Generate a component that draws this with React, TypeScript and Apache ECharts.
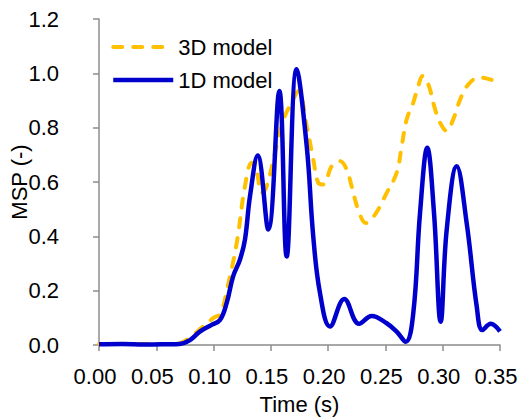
import React, { useEffect, useRef } from "react";
import * as echarts from "echarts";

const xTicks = [0, 0.05, 0.1, 0.15, 0.2, 0.25, 0.3, 0.35];
const yTicks = [0, 0.2, 0.4, 0.6, 0.8, 1.0, 1.2];

const seriesNames = ["3D model", "1D model"];

const time3D = [
  0, 0.03, 0.06, 0.07, 0.08, 0.09, 0.1, 0.106, 0.112, 0.1202, 0.1274, 0.1333,
  0.1375, 0.142, 0.146, 0.1565, 0.1623, 0.1682, 0.174, 0.1813, 0.187, 0.1914,
  0.1958, 0.2031, 0.2103, 0.2162, 0.2205, 0.2263, 0.233, 0.2409, 0.2511,
  0.2598, 0.2642, 0.2686, 0.2743, 0.2787, 0.2825, 0.2874, 0.2933, 0.2976,
  0.3035, 0.3092, 0.3165, 0.3238, 0.3325, 0.3427,
];
const msp3D = [
  0.004, 0.004, 0.004, 0.006, 0.03, 0.065, 0.1, 0.115, 0.21, 0.375, 0.584,
  0.671, 0.64, 0.56, 0.58, 0.757, 0.843, 0.892, 0.935, 0.806, 0.683, 0.597,
  0.591, 0.658, 0.677, 0.646, 0.584, 0.498, 0.449, 0.48, 0.56, 0.634, 0.732,
  0.831, 0.892, 0.954, 0.99, 0.96, 0.868, 0.819, 0.788, 0.831, 0.917, 0.966,
  0.985, 0.976,
];

const time1D = [
  0, 0.02, 0.04, 0.06, 0.07, 0.0794, 0.088, 0.0983, 0.1056, 0.1114, 0.117,
  0.123, 0.1274, 0.1318, 0.1385, 0.1478, 0.1574, 0.1638, 0.1725, 0.1813,
  0.187, 0.1929, 0.2016, 0.2141, 0.227, 0.238, 0.2511, 0.2598, 0.2677,
  0.2743, 0.2802, 0.2865, 0.2924, 0.2982, 0.3035, 0.3122, 0.3209, 0.3297,
  0.3346, 0.3419, 0.35,
];
const msp1D = [
  0.003, 0.004, 0.002, 0.003, 0.004, 0.018, 0.049, 0.074, 0.092, 0.154, 0.252,
  0.314, 0.388, 0.548, 0.698, 0.425, 0.935, 0.326, 1.015, 0.732, 0.4, 0.191,
  0.068, 0.169, 0.078, 0.107, 0.08, 0.049, 0.012, 0.117, 0.486, 0.726, 0.486,
  0.086, 0.425, 0.658, 0.449, 0.141, 0.055, 0.078, 0.05,
];

const FONT = "'Liberation Sans', Arial, Helvetica, sans-serif";
const ORANGE = "#FFC000";
const BLUE = "#0000CC";
const DASH = [9, 11];

export default function App() {
  const ref = useRef<HTMLDivElement>(null);
  useEffect(() => {
    if (!ref.current) return;
    const chart = echarts.init(ref.current, undefined, { renderer: "svg" });
    const axisColor = "#8c8c8c";
    chart.setOption({
      animation: false,
      backgroundColor: "#ffffff",
      textStyle: { fontFamily: FONT },
      grid: { left: 99, right: 23, top: 19, bottom: 72, containLabel: false, outerBoundsMode: "none" },
      legend: {
        data: [
          {
            name: seriesNames[0],
            itemStyle: { opacity: 0 },
            lineStyle: { color: ORANGE, width: 4, type: DASH, cap: "round" },
          },
          {
            name: seriesNames[1],
            itemStyle: { opacity: 0 },
            lineStyle: { color: BLUE, width: 4.5 },
          },
        ],
        left: 106,
        top: 31,
        orient: "vertical",
        itemWidth: 60,
        itemHeight: 14,
        itemGap: 11,
        textStyle: { fontSize: 22, color: "#000", fontFamily: FONT, lineHeight: 22 },
      },
      xAxis: {
        type: "value",
        min: xTicks[0],
        max: xTicks[xTicks.length - 1],
        interval: 0.05,
        name: "Time (s)",
        nameLocation: "middle",
        nameGap: 48,
        nameMoveOverlap: false,
        nameTextStyle: { fontSize: 22, color: "#000", fontFamily: FONT },
        axisLine: { show: true, lineStyle: { color: axisColor, width: 1.5 } },
        axisTick: { show: true, length: 6, lineStyle: { color: axisColor, width: 1.5 } },
        splitLine: { show: false },
        axisLabel: {
          fontSize: 22,
          color: "#000",
          fontFamily: FONT,
          margin: 20,
          padding: [0, 8, 0, 0],
          formatter: (v: number) => v.toFixed(2),
        },
      },
      yAxis: {
        type: "value",
        min: yTicks[0],
        max: yTicks[yTicks.length - 1],
        interval: 0.2,
        name: "MSP (-)",
        nameLocation: "middle",
        nameGap: 69,
        nameRotate: 90,
        nameMoveOverlap: false,
        nameTextStyle: { fontSize: 22, color: "#000", fontFamily: FONT },
        axisLine: { show: true, lineStyle: { color: axisColor, width: 1.5 } },
        axisTick: { show: true, length: 6, lineStyle: { color: axisColor, width: 1.5 } },
        splitLine: { show: false },
        axisLabel: {
          fontSize: 22,
          color: "#000",
          fontFamily: FONT,
          margin: 40,
          formatter: (v: number) => v.toFixed(1),
        },
      },
      series: [
        {
          name: seriesNames[0],
          type: "line",
          data: time3D.map((t, i) => [t, msp3D[i]]),
          smooth: 0.4,
          symbol: "none",
          lineStyle: { color: ORANGE, width: 4, type: DASH, cap: "round" },
          itemStyle: { color: ORANGE },
          z: 2,
        },
        {
          name: seriesNames[1],
          type: "line",
          data: time1D.map((t, i) => [t, msp1D[i]]),
          smooth: 0.4,
          symbol: "none",
          lineStyle: { color: BLUE, width: 4.5 },
          itemStyle: { color: BLUE },
          z: 3,
        },
      ],
    });
    return () => chart.dispose();
  }, []);
  return <div ref={ref} style={{ width: 523, height: 417, position: "absolute", left: 0, top: 0 }} />;
}
